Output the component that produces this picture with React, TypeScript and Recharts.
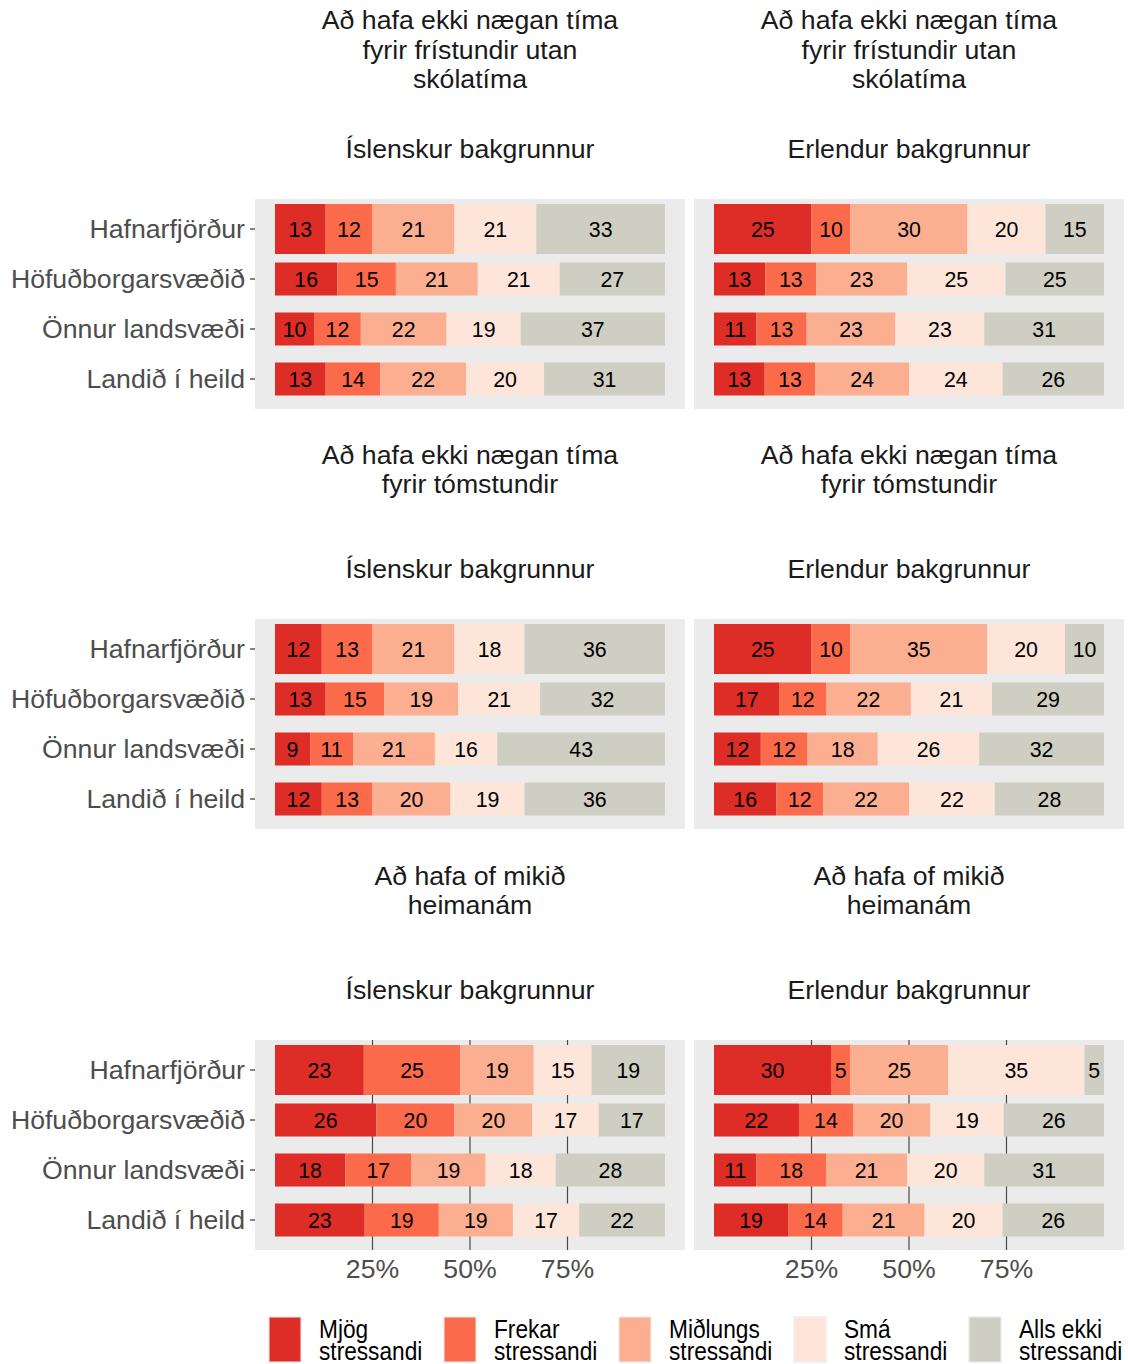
import React from "react";
import { BarChart, Bar, XAxis, YAxis, CartesianGrid, LabelList } from "recharts";

// ---------- data ----------
const regions = ["Hafnarfjörður", "Höfuðborgarsvæðið", "Önnur landsvæði", "Landið í heild"];
const levels = ["Mjög stressandi", "Frekar stressandi", "Miðlungs stressandi", "Smá stressandi", "Alls ekki stressandi"];
const topics = [
  ["Að hafa ekki nægan tíma", "fyrir frístundir utan", "skólatíma"],
  ["Að hafa ekki nægan tíma", "fyrir tómstundir"],
  ["Að hafa of mikið", "heimanám"],
];
const backgrounds = ["Íslenskur bakgrunnur", "Erlendur bakgrunnur"];
const xTicks = [0.25, 0.5, 0.75];

// values per region (rows) and stress level (columns), in %
const fristundirIslenskur = [[13, 12, 21, 21, 33], [16, 15, 21, 21, 27], [10, 12, 22, 19, 37], [13, 14, 22, 20, 31]];
const fristundirErlendur = [[25, 10, 30, 20, 15], [13, 13, 23, 25, 25], [11, 13, 23, 23, 31], [13, 13, 24, 24, 26]];
const tomstundirIslenskur = [[12, 13, 21, 18, 36], [13, 15, 19, 21, 32], [9, 11, 21, 16, 43], [12, 13, 20, 19, 36]];
const tomstundirErlendur = [[25, 10, 35, 20, 10], [17, 12, 22, 21, 29], [12, 12, 18, 26, 32], [16, 12, 22, 22, 28]];
const heimanamIslenskur = [[23, 25, 19, 15, 19], [26, 20, 20, 17, 17], [18, 17, 19, 18, 28], [23, 19, 19, 17, 22]];
const heimanamErlendur = [[30, 5, 25, 35, 5], [22, 14, 20, 19, 26], [11, 18, 21, 20, 31], [19, 14, 21, 20, 26]];

// ---------- styles ----------
const colors = ["#DE2D26", "#FB6A4A", "#FCAE91", "#FEE5D9", "#CECEC2"];
const rowBarScale = [1, 0.66, 0.66, 0.66];
const FONT = "'Liberation Sans', Arial, Helvetica, sans-serif";
const BIG = 26.67;
const KEYS = ["v0", "v1", "v2", "v3", "v4"];

const panels = [
  [fristundirIslenskur, fristundirErlendur],
  [tomstundirIslenskur, tomstundirErlendur],
  [heimanamIslenskur, heimanamErlendur],
];
const panelTops = [199, 619, 1040];
const PANEL_H = 210;

function toRows(values: number[][]) {
  return regions.map((r, i) => {
    const row: any = { region: r };
    KEYS.forEach((k, j) => (row[k] = values[i][j]));
    return row;
  });
}

const ScaledBar = (props: any) => {
  const { x, y, width, height, index, fill } = props;
  const s = rowBarScale[index] ?? 1;
  const h = height * s;
  return <rect x={x} y={y + (height - h) / 2} width={width} height={h} fill={fill} />;
};

function Panel({ values, col, showX, top }: { values: number[][]; col: number; showX: boolean; top: number }) {
  const left = col === 0 ? 0 : 694;
  const width = col === 0 ? 685 : 430;
  const height = PANEL_H + (showX ? 40 : 0);
  return (
    <div style={{ position: "absolute", left, top, width, height }}>
      <BarChart
        width={width}
        height={height}
        data={toRows(values)}
        layout="vertical"
        stackOffset="expand"
        barCategoryGap={0}
        margin={{ top: 0, right: 0, bottom: 0, left: 0 }}
      >
        <CartesianGrid horizontal={false} syncWithTicks fill="#EBEBEB" stroke="#4A4A4A" strokeWidth={1.2} />
        <XAxis
          type="number"
          domain={[0, 1]}
          ticks={xTicks}
          padding={{ left: 20, right: 20 }}
          axisLine={false}
          tickLine={false}
          height={showX ? 40 : 0}
          tick={showX ? { fill: "#4D4D4D", fontSize: BIG } : false}
          tickMargin={3.5}
          tickFormatter={(v: number) => `${Math.round(v * 100)}%`}
        />
        <YAxis
          type="category"
          dataKey="region"
          width={col === 0 ? 255 : 0}
          hide={col !== 0}
          padding={{ top: 5, bottom: 5 }}
          axisLine={false}
          tickLine={{ stroke: "#333333", strokeWidth: 1.2 }}
          tickSize={5}
          tickMargin={5}
          tick={{ fill: "#4D4D4D", fontSize: BIG }}
          interval={0}
        />
        {KEYS.map((k, j) => (
          <Bar key={k} dataKey={k} stackId="s" fill={colors[j]} isAnimationActive={false} shape={ScaledBar}>
            <LabelList dataKey={k} position="center" fill="#000000" fontSize={21.33} />
          </Bar>
        ))}
      </BarChart>
    </div>
  );
}

export default function App() {
  const colCenters = [470, 909];
  return (
    <div
      style={{
        position: "absolute",
        left: 0,
        top: 0,
        width: 1128,
        height: 1364,
        background: "#FFFFFF",
        fontFamily: FONT,
        overflow: "hidden",
      }}
    >
      {panels.map((row, r) =>
        row.map((vals, c) => (
          <Panel key={`${r}-${c}`} values={vals} col={c} showX={r === panels.length - 1} top={panelTops[r]} />
        ))
      )}
      <svg
        width={1128}
        height={1364}
        style={{ position: "absolute", left: 0, top: 0, pointerEvents: "none", fontFamily: FONT }}
      >
        {topics.map((lines, r) => {
          const centerBaseline = panelTops[r] - 140.5;
          const first = centerBaseline - ((lines.length - 1) / 2) * 29.2;
          return colCenters.map((cx, c) => (
            <g key={`t-${r}-${c}`}>
              {lines.map((ln, i) => (
                <text key={i} x={cx} y={first + i * 29.2} textAnchor="middle" fontSize={BIG} fill="#1A1A1A">
                  {ln}
                </text>
              ))}
              <text x={cx} y={panelTops[r] - 41.3} textAnchor="middle" fontSize={BIG} fill="#1A1A1A">
                {backgrounds[c]}
              </text>
            </g>
          ));
        })}
        {levels.map((lv, i) => {
          const kx = 269 + i * 175;
          const tx = 319 + i * 175;
          const sp = lv.lastIndexOf(" ");
          const l1 = lv.slice(0, sp);
          const l2 = lv.slice(sp + 1);
          return (
            <g key={lv}>
              <rect x={kx - 1} y={1316} width={34} height={47} fill="#F2F2F2" />
              <rect x={kx + 0.5} y={1317.5} width={31} height={44} fill={colors[i]} />
              <g transform={`translate(${tx},0) scale(0.85,1)`}>
                <text x={0} y={1338} fontSize={BIG} fill="#000000">{l1}</text>
                <text x={0} y={1360} fontSize={BIG} fill="#000000">{l2}</text>
              </g>
            </g>
          );
        })}
      </svg>
    </div>
  );
}
